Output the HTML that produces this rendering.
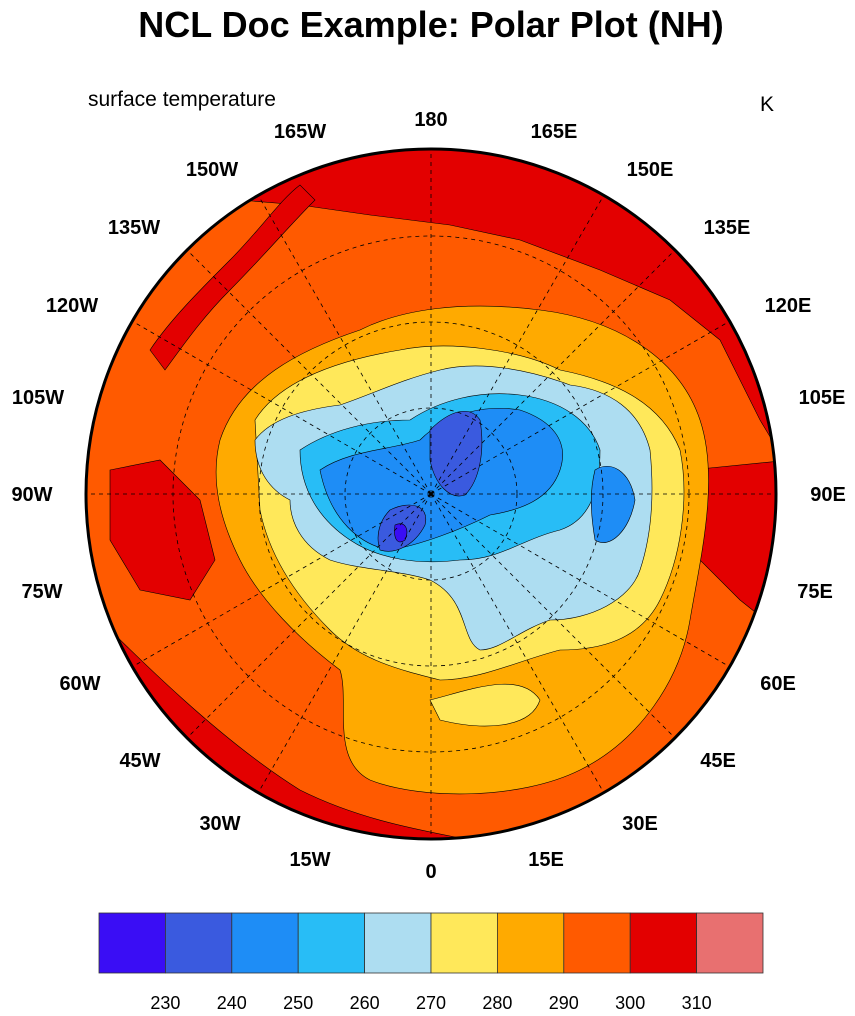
<!DOCTYPE html>
<html><head><meta charset="utf-8"><style>
body{margin:0;background:#fff;width:855px;height:1016px;overflow:hidden}
svg{display:block}
text{font-family:"Liberation Sans",sans-serif}
</style></head><body>
<svg width="855" height="1016" viewBox="0 0 855 1016">
<defs><clipPath id="c"><circle cx="431" cy="494" r="345"/></clipPath></defs>
<text x="431" y="37" font-size="36" font-weight="bold" text-anchor="middle">NCL Doc Example: Polar Plot (NH)</text>
<text x="88" y="106" font-size="21">surface temperature</text>
<text x="760" y="111" font-size="21">K</text>
<g clip-path="url(#c)" stroke="#000" stroke-width="0.6">
<rect x="80" y="140" width="710" height="710" fill="#FF5A00" stroke="none"/>
<path fill="#E30000" d="M200,140 L790,140 L790,470 L760,420 L720,340 L670,300 L600,270 L520,240 L450,225 L370,215 L300,205 L240,200 Z"/>
<path fill="#E30000" d="M150,350 C170,320 200,290 230,260 C260,230 280,200 300,185 L315,200 C290,225 260,260 230,290 C200,320 180,350 165,370 Z"/>
<path fill="#E30000" d="M690,470 L790,460 L790,640 L740,600 L700,560 L680,510 Z"/>
<path fill="#E30000" d="M80,600 C140,660 220,740 300,790 C360,820 420,830 470,840 L80,850 Z"/>
<path fill="#E30000" d="M110,470 L160,460 L200,500 L215,560 L190,600 L140,590 L110,540 Z"/>
<path fill="#E30000" d="M570,660 L620,670 L640,700 L600,700 Z"/>
<path fill="#FFAA00" d="M220,440 C240,380 300,350 360,330 C400,310 460,300 540,310 C620,320 680,360 700,420 C720,480 700,560 690,620 C680,680 640,740 580,770 C520,800 420,800 370,780 C330,760 350,700 340,670 C300,640 260,600 240,560 C220,520 210,480 220,440 Z"/>
<path fill="#FFE85A" d="M255,420 C280,380 340,360 400,350 C450,340 520,350 560,370 C610,380 660,400 680,450 C690,500 680,560 660,600 C640,640 600,650 560,650 C520,660 480,680 440,680 C400,670 360,660 330,630 C300,600 270,560 260,510 Z"/>
<path fill="#FFE85A" d="M430,700 C470,690 520,670 540,700 C530,730 480,730 440,720 Z"/>
<path fill="#ADDDF1" d="M255,440 C270,420 300,410 340,405 C370,395 400,380 440,370 C480,360 530,370 570,385 C610,390 640,410 650,450 C655,500 650,540 640,570 C630,600 590,620 550,620 C520,630 500,650 480,650 C460,640 470,600 430,580 C400,570 360,570 330,560 C300,545 290,520 290,500 C270,490 255,470 255,440 Z"/>
<path fill="#28BDF6" d="M300,450 C330,430 370,420 410,420 C440,400 480,390 520,395 C560,400 590,420 600,450 C600,490 590,520 560,530 C520,540 500,560 460,560 C420,565 380,560 350,540 C320,520 300,490 300,450 Z"/>
<path fill="#1E8DF6" d="M320,470 C350,450 390,450 420,440 C450,410 490,405 520,410 C550,420 570,440 560,470 C550,500 520,510 490,515 C460,530 420,545 390,550 C360,545 330,520 320,470 Z"/>
<path fill="#1E8DF6" d="M595,470 C610,460 630,470 635,500 C630,530 610,550 595,540 C590,510 590,490 595,470 Z"/>
<path fill="#3A5ADF" d="M430,430 C450,410 470,405 480,420 C485,450 480,480 465,495 C450,500 435,485 430,460 Z"/>
<path fill="#3A5ADF" d="M390,510 C410,500 430,505 425,525 C415,545 395,555 380,550 C375,535 380,520 390,510 Z"/>
<path fill="#3A0DF5" d="M395,525 C405,520 410,530 405,540 C398,545 393,540 395,525 Z"/>
</g>
<g clip-path="url(#c)" fill="none" stroke="#000" stroke-width="0.8" stroke-dasharray="4,4">
<circle cx="431" cy="494" r="86"/><circle cx="431" cy="494" r="172"/><circle cx="431" cy="494" r="258"/>
<path d="M431,494 L431,149 M431,494 L431,839 M431,494 L86,494 M431,494 L776,494 M431,494 L187,250 M431,494 L675,250 M431,494 L187,738 M431,494 L675,738 M431,494 L258,195 M431,494 L604,195 M431,494 L258,793 M431,494 L604,793 M431,494 L132,321 M431,494 L730,321 M431,494 L132,667 M431,494 L730,667"/>
</g>
<circle cx="431" cy="494" r="345" fill="none" stroke="#000" stroke-width="3"/>
<g font-size="20" font-weight="bold" text-anchor="middle">
<text x="431" y="126">180</text><text x="431" y="878">0</text>
<text x="32" y="501">90W</text><text x="828" y="501">90E</text>
<text x="300" y="138">165W</text><text x="554" y="138">165E</text>
<text x="212" y="176">150W</text><text x="650" y="176">150E</text>
<text x="134" y="234">135W</text><text x="727" y="234">135E</text>
<text x="72" y="312">120W</text><text x="788" y="312">120E</text>
<text x="38" y="404">105W</text><text x="822" y="404">105E</text>
<text x="42" y="598">75W</text><text x="815" y="598">75E</text>
<text x="80" y="690">60W</text><text x="778" y="690">60E</text>
<text x="140" y="767">45W</text><text x="718" y="767">45E</text>
<text x="220" y="830">30W</text><text x="640" y="830">30E</text>
<text x="310" y="866">15W</text><text x="546" y="866">15E</text>
</g>
<g stroke="#333" stroke-width="0.8">
<rect x="99" y="913" width="66.4" height="60" fill="#3A0DF5"/>
<rect x="165.4" y="913" width="66.4" height="60" fill="#3A5ADF"/>
<rect x="231.8" y="913" width="66.4" height="60" fill="#1E8DF6"/>
<rect x="298.2" y="913" width="66.4" height="60" fill="#28BDF6"/>
<rect x="364.6" y="913" width="66.4" height="60" fill="#ADDDF1"/>
<rect x="431" y="913" width="66.4" height="60" fill="#FFE85A"/>
<rect x="497.4" y="913" width="66.4" height="60" fill="#FFAA00"/>
<rect x="563.8" y="913" width="66.4" height="60" fill="#FF5A00"/>
<rect x="630.2" y="913" width="66.4" height="60" fill="#E30000"/>
<rect x="696.6" y="913" width="66.4" height="60" fill="#E87070"/>
</g>
<g font-size="18" text-anchor="middle">
<text x="165.4" y="1009">230</text><text x="231.8" y="1009">240</text><text x="298.2" y="1009">250</text>
<text x="364.6" y="1009">260</text><text x="431" y="1009">270</text><text x="497.4" y="1009">280</text>
<text x="563.8" y="1009">290</text><text x="630.2" y="1009">300</text><text x="696.6" y="1009">310</text>
</g>
</svg>
</body></html>
